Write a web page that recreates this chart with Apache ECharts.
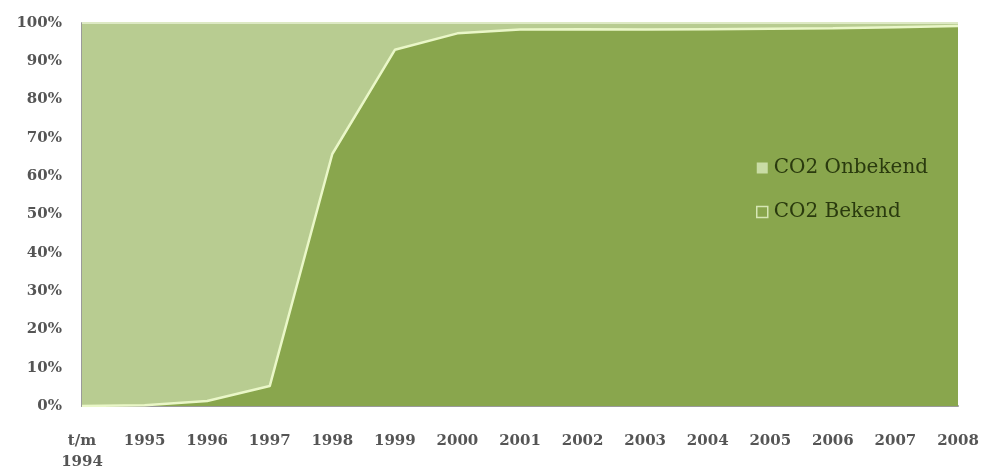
<!DOCTYPE html>
<html>
<head>
<meta charset="utf-8">
<script src="https://cdn.jsdelivr.net/npm/echarts@6/dist/echarts.min.js"></script>
<style>
  html, body { margin: 0; padding: 0; background: #ffffff; }
  #chart { width: 984px; height: 473px; }
</style>
</head>
<body>
<div id="chart"></div>
<script>
// Years on the horizontal axis
const categories = ['t/m\n1994', '1995', '1996', '1997', '1998', '1999', '2000', '2001',
                    '2002', '2003', '2004', '2005', '2006', '2007', '2008'];
// Share (%) of records with known CO2 value
const bekend = [0, 0.2, 1.3, 5.2, 65.8, 93.0, 97.3, 98.3, 98.4, 98.3, 98.4, 98.5, 98.6, 98.9, 99.2];
// Share (%) of records with unknown CO2 value
const onbekend = [100, 99.8, 98.7, 94.8, 34.2, 7.0, 2.7, 1.7, 1.6, 1.7, 1.6, 1.5, 1.4, 1.1, 0.8];

const darkGreen = '#89a64d';
const lightGreen = '#b8cc91';
const edgeLine = '#eaf7c8';
const labelFont = { fontFamily: 'DejaVu Serif', fontWeight: 'bold', fontSize: 15, color: '#555555' };

const chart = echarts.init(document.getElementById('chart'), null, { renderer: 'canvas' });
chart.setOption({
  animation: false,
  backgroundColor: '#ffffff',
  grid: { left: 82, right: 26, top: 23, bottom: 65, containLabel: false },
  legend: {
    orient: 'vertical',
    left: 751,
    top: 153,
    itemWidth: 11,
    itemHeight: 11,
    itemGap: 24,
    textStyle: { fontFamily: 'DejaVu Serif', fontSize: 20, color: '#2a3a0e', padding: [0, 0, 0, 1] },
    data: [
      { name: 'CO2 Onbekend', icon: 'rect', itemStyle: { color: '#c9dca5', borderColor: '#c9dca5', borderWidth: 0 } },
      { name: 'CO2 Bekend', icon: 'rect', itemStyle: { color: darkGreen, borderColor: '#d6e6b4', borderWidth: 1.5 } }
    ]
  },
  xAxis: {
    type: 'category',
    data: categories,
    boundaryGap: false,
    axisLine: { show: true, lineStyle: { color: '#9a9a9a', width: 2 } },
    axisTick: { show: false },
    axisLabel: Object.assign({ margin: 25, interval: 0, lineHeight: 21 }, labelFont),
    splitLine: { show: false }
  },
  yAxis: {
    type: 'value',
    min: 0,
    max: 100,
    interval: 10,
    axisLine: { show: true, lineStyle: { color: '#9a9a9a', width: 2 } },
    axisTick: { show: false },
    axisLabel: Object.assign({ margin: 20, formatter: '{value}%' }, labelFont),
    splitLine: { show: false }
  },
  series: [
    {
      name: 'CO2 Bekend',
      type: 'line',
      stack: 'totaal',
      data: bekend,
      symbol: 'none',
      lineStyle: { color: edgeLine, width: 2.5 },
      itemStyle: { color: darkGreen },
      areaStyle: { color: darkGreen, opacity: 1 },
      z: 3
    },
    {
      name: 'CO2 Onbekend',
      type: 'line',
      stack: 'totaal',
      data: onbekend,
      symbol: 'none',
      lineStyle: { color: '#dde9c4', width: 2 },
      itemStyle: { color: lightGreen },
      areaStyle: { color: lightGreen, opacity: 1 },
      z: 2
    }
  ]
});
</script>
</body>
</html>
